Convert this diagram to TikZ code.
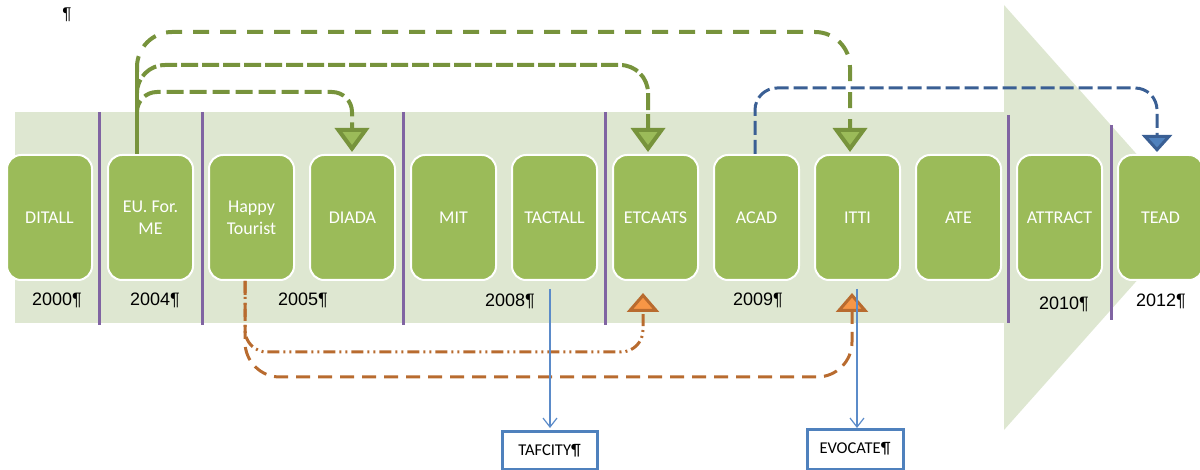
\documentclass[tikz,border=0pt]{standalone}
\usepackage{fontspec}
\setmainfont{Carlito}
\newfontfamily\arialf{Liberation Sans}
\usetikzlibrary{arrows.meta,calc}
\definecolor{bandc}{HTML}{DEE7D1}
\definecolor{boxgreen}{HTML}{9BBB59}
\definecolor{olive}{HTML}{77933C}
\definecolor{purp}{HTML}{8064A2}
\definecolor{bluedark}{HTML}{3A5F94}
\definecolor{bluefill}{HTML}{4F81BD}
\definecolor{orline}{HTML}{B86B2F}
\definecolor{orfill}{HTML}{F79646}
\definecolor{thinblue}{HTML}{5B8BC9}
\tikzset{
  pbox/.style={rectangle, rounded corners=14pt, fill=boxgreen, draw=white, line width=2pt,
    minimum width=85pt, minimum height=125pt, text=white, align=center,
    font=\fontsize{18}{22}\selectfont, inner sep=0pt},
  yr/.style={font=\arialf\fontsize{18}{20}\selectfont, text=black, inner sep=0pt},
  divider/.style={purp, line width=3pt},
  gline/.style={olive, line width=4pt, -{Triangle[width=34pt,length=24pt,fill=boxgreen]}},
  bline/.style={bluedark, line width=3pt, dash pattern=on 14pt off 5pt, rounded corners=22pt,
    -{Triangle[width=30pt,length=17pt,fill=bluefill]}},
  oline/.style={orline, line width=3pt, -{Triangle[width=32pt,length=19pt,fill=orfill]}},
  tline/.style={thinblue, line width=1.2pt, -{Straight Barb[length=9pt,width=14pt]}},
  obox/.style={draw=bluefill, line width=3pt, fill=white, inner sep=0pt,
    font=\fontsize{16.5}{18}\selectfont, text=black}
}
\begin{document}
\begin{tikzpicture}[x=1pt,y=-1pt]
\useasboundingbox (0,0) rectangle (1200,470);
% background band and arrow
\fill[bandc] (15,112) rectangle (1004,323);
\fill[bandc] (1004,5) -- (1193,217.5) -- (1004,430) -- cycle;
% paragraph mark top-left
\node[font=\arialf\fontsize{17}{18}\selectfont, inner sep=0pt] (pm) at (67,15) {¶};
% dividers
\draw[divider] (99,112) -- (99,325);
\draw[divider] (202,112) -- (202,325);
\draw[divider] (403,112) -- (403,325);
\draw[divider] (605,112) -- (605,325);
\draw[divider] (1008,115) -- (1008,323);
\draw[divider] (1111,125) -- (1111,320);
% boxes
\node[pbox] (ditall) at (49.5,217.5) {DITALL};
\node[pbox] (eu) at (150.5,217.5) {EU. For.\\ME};
\node[pbox] (happy) at (251.5,217.5) {Happy\\Tourist};
\node[pbox] (diada) at (352.5,217.5) {DIADA};
\node[pbox] (mit) at (453.5,217.5) {MIT};
\node[pbox] (tactall) at (554.5,217.5) {TACTALL};
\node[pbox] (etcaats) at (655.5,217.5) {ETCAATS};
\node[pbox] (acad) at (756.5,217.5) {ACAD};
\node[pbox] (itti) at (857.5,217.5) {ITTI};
\node[pbox] (ate) at (958.5,217.5) {ATE};
\node[pbox] (attract) at (1059.5,217.5) {ATTRACT};
\node[pbox] (tead) at (1160.5,217.5) {TEAD};
% years
\node[yr] (y2000) at (57,300) {2000¶};
\node[yr] (y2004) at (155,300) {2004¶};
\node[yr] (y2005) at (303,300) {2005¶};
\node[yr] (y2008) at (510,301) {2008¶};
\node[yr] (y2009) at (758,300) {2009¶};
\node[yr] (y2010) at (1064,304) {2010¶};
\node[yr] (y2012) at (1161,301) {2012¶};
% output boxes
\node[obox, minimum width=95pt, minimum height=38pt] (tafcity) at (549.5,450.5) {TAFCITY¶};
\node[obox, minimum width=96pt, minimum height=40pt] (evocate) at (855,449) {EVOCATE¶};
% green connectors from EU. For. ME
\coordinate (gtop) at (137,72);
\coordinate (gmid) at (137,90);
\coordinate (glow) at (137,107);
\draw[olive, line width=4pt] ([xshift=-13.5pt]eu.north) -- (gtop);
\draw[gline, dash pattern=on 17pt off 6pt, rounded corners=20pt]
  (glow) -- (137,92) -- ([xshift=-0.5pt]diada.north |- 0,92) -- ([xshift=-0.5pt,yshift=2pt]diada.north);
\draw[gline, dash pattern=on 17pt off 4pt, rounded corners=28pt]
  (gmid) -- (137,65) -- ([xshift=-7.5pt]etcaats.north |- 0,65) -- ([xshift=-7.5pt,yshift=2pt]etcaats.north);
\draw[gline, dash pattern=on 16pt off 11pt, rounded corners=35pt]
  (gtop) -- (137,32) -- ([xshift=-7.5pt]itti.north |- 0,32) -- ([xshift=-7.5pt,yshift=2pt]itti.north);
% blue connector ACAD -> TEAD
\draw[bline] ([xshift=-1.5pt]acad.north) -- ([xshift=-1.5pt]acad.north |- 0,88)
  -- ([xshift=-3.5pt]tead.north |- 0,88) -- ([xshift=-3.5pt,yshift=2pt]tead.north);
% orange connectors from Happy Tourist
\draw[oline, dash pattern=on 12pt off 4pt on 2pt off 4pt on 2pt off 4pt, rounded corners=22pt]
  ([xshift=-6.5pt]happy.south) -- (245,352) -- ([xshift=-12.5pt]etcaats.south |- 0,352)
  -- ([xshift=-12.5pt,yshift=-12pt]etcaats.south);
\draw[oline, dash pattern=on 14pt off 8pt, rounded corners=35pt]
  ([xshift=-6.5pt]happy.south) -- (245,377) -- ([xshift=-5.5pt]itti.south |- 0,377)
  -- ([xshift=-5.5pt,yshift=-12pt]itti.south);
% thin blue arrows
\draw[tline] ([xshift=-4.5pt,yshift=-8pt]tactall.south) -- ([xshift=-4.5pt,yshift=-8pt]tactall.south |- 0,420);
\draw[tline] ([xshift=-0.5pt,yshift=-8pt]itti.south) -- ([xshift=-0.5pt,yshift=-8pt]itti.south |- 0,420);
\end{tikzpicture}
\end{document}
